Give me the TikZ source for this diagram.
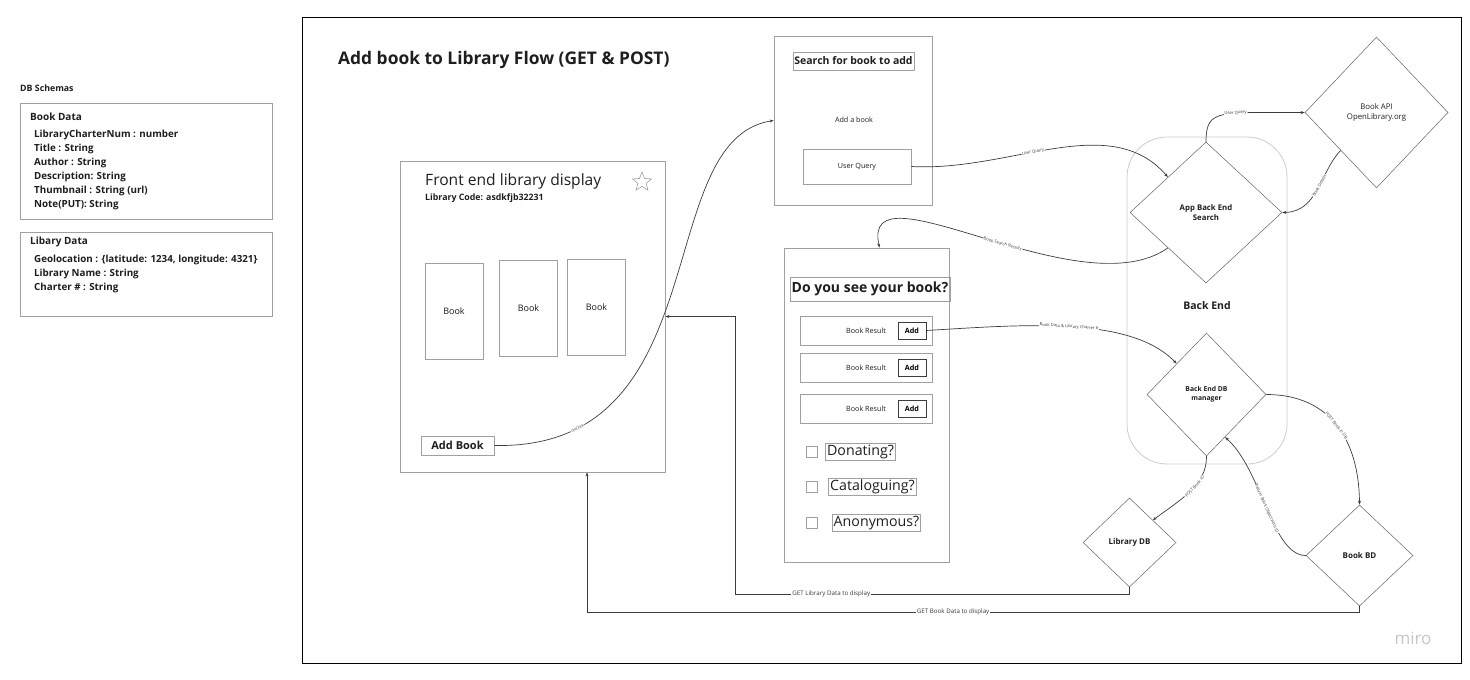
\documentclass[tikz,border=0pt]{standalone}
\usepackage{fontspec}
\setmainfont{Open Sans}
\usetikzlibrary{shapes.geometric, arrows.meta, positioning, calc}
\definecolor{boxgray}{RGB}{160, 160, 160}
\definecolor{linegray}{RGB}{60, 60, 60}
\definecolor{panelgray}{RGB}{205, 205, 205}
\definecolor{inkgray}{RGB}{30, 30, 30}

\begin{document}
\begin{tikzpicture}[x=1pt, y=-1pt,
  box/.style={draw=boxgray, line width=0.8pt, inner sep=2pt, text=inkgray},
  schema/.style={font=\bfseries\fontsize{9.8}{11}\selectfont, anchor=west, inner sep=0pt, text=inkgray},
  bookcard/.style={box, minimum width=58pt, minimum height=96pt, font=\fontsize{9}{10}\selectfont},
  dia/.style={diamond, draw=linegray!80, line width=0.5pt, align=center, inner sep=0pt, text=inkgray},
  flow/.style={draw=linegray, line width=0.7pt, -{Stealth[length=4pt, width=3pt]}},
  lbl/.style={sloped, fill=white, inner sep=0.5pt, font=\fontsize{4.2}{5}\selectfont, text=linegray},
  getlbl/.style={fill=white, inner sep=1pt, font=\fontsize{6.2}{7}\selectfont, text=linegray},
]
  \useasboundingbox (0,0) rectangle (1470,680);

  % DB schemas
  \node[schema, font=\bfseries\fontsize{8.8}{10}\selectfont] (dbtitle) at (20,88) {DB Schemas};
  \node[box, anchor=north west, minimum width=252pt, minimum height=116pt] (bookdata) at (20,103) {};
  \node[schema, font=\bfseries\fontsize{10}{11}\selectfont] (bookdatatitle) at (30,117) {Book Data};
  \foreach \row [count=\i] in {LibraryCharterNum : number, Title : String, Author : String,
      Description: String, Thumbnail : String (url), Note(PUT): String}
    \node[schema] (bdrow\i) at (34,121+14*\i) {\row};

  \node[box, anchor=north west, minimum width=252pt, minimum height=84pt] (libdata) at (20,232) {};
  \node[schema, font=\bfseries\fontsize{10}{11}\selectfont] (libdatatitle) at (30,242) {Libary Data};
  \foreach \row [count=\i] in {{Geolocation : \{latitude: 1234, longitude: 4321\}},
      Library Name : String, Charter \# : String}
    \node[schema] (ldrow\i) at (34,246+14*\i) {\row};

  % Flow frame
  \node[draw, line width=1.2pt, anchor=north west, minimum width=1159pt, minimum height=646pt] (frame) at (302,17) {};
  \node[anchor=west, inner sep=0pt, font=\bfseries\fontsize{17.4}{19}\selectfont, text=inkgray] (flowtitle) at (338,60)
    {Add book to Library Flow (GET \& POST)};

  % Front end library display
  \node[box, minimum width=265pt, minimum height=311pt] (front) at (532.5,316.5) {};
  \node[anchor=west, inner sep=0pt, font=\fontsize{15.6}{17}\selectfont, text=inkgray] (fronttitle) at (425,181)
    {Front end library display};
  \node[anchor=west, inner sep=0pt, font=\bfseries\fontsize{8.8}{10}\selectfont, text=inkgray] (frontcode) at (425,198)
    {Library Code: asdkfjb32231};
  \node[star, star points=5, star point ratio=2.3, draw=boxgray, line width=0.6pt, minimum size=20pt, inner sep=0pt] (star) at (642,182) {};
  \node[bookcard] (book1) at (454,311) {Book};
  \node[bookcard] (book2) at (528.5,308.5) {Book};
  \node[bookcard] (book3) at (596.5,307) {Book};
  \node[box, minimum width=73pt, minimum height=19pt, font=\bfseries\fontsize{11}{12}\selectfont] (addbook) at (457.5,445.5) {Add Book};

  % Search for book to add
  \node[box, minimum width=158pt, minimum height=169pt] (search) at (853,120.5) {};
  \node[box, minimum width=121pt, minimum height=18pt, inner sep=1pt, font=\bfseries\fontsize{10.5}{11}\selectfont] (searchtitle) at (853.5,61) {Search for book to add};
  \node[font=\fontsize{7.2}{8}\selectfont, text=inkgray] (addabook) at (854,120) {Add a book};
  \node[box, minimum width=108pt, minimum height=35pt, font=\fontsize{7.2}{8}\selectfont] (userquery) at (857,166.5) {User Query};

  % Do you see your book?
  \node[box, minimum width=165pt, minimum height=314pt] (results) at (866.5,405) {};
  \node[box, minimum width=160pt, minimum height=24pt, inner sep=1pt, font=\bfseries\fontsize{14}{15}\selectfont] (resultstitle) at (870,289) {Do you see your book?};
  \foreach \y [count=\i] in {330.5, 367.5, 408.5} {
    \node[box, minimum width=132pt, minimum height=29pt, font=\fontsize{7.2}{8}\selectfont] (result\i) at (866,\y) {Book Result};
    \node[draw=linegray, line width=0.6pt, minimum width=28pt, minimum height=17pt, inner sep=0pt, font=\bfseries\fontsize{7.2}{8}\selectfont] (add\i) at (912,\y) {Add};
  }
  \foreach \x/\y/\opt [count=\i] in {860.5/451.5/Donating?, 872.5/486.5/Cataloguing?, 876.5/523/Anonymous?} {
    \node[box, minimum size=11pt, inner sep=0pt] (check\i) at (811.5,\y) {};
    \node[box, inner sep=1.5pt, font=\fontsize{14.2}{15}\selectfont] (opt\i) at (\x,\y) {\opt};
  }

  % Back end
  \node[draw=panelgray, line width=0.8pt, rounded corners=40pt, minimum width=160pt, minimum height=327pt] (backend) at (1207,300.5) {};
  \node[font=\bfseries\fontsize{10.5}{11}\selectfont, text=inkgray] (backendlbl) at (1207,306) {Back End};
  \node[dia, minimum width=152pt, minimum height=141pt, font=\bfseries\fontsize{7.8}{10}\selectfont] (appsearch) at (1206,212.5) {App Back End\\Search};
  \node[dia, minimum width=143pt, minimum height=151pt, font=\fontsize{7.8}{10}\selectfont] (bookapi) at (1376.5,112.5) {Book API\\OpenLibrary.org};
  \node[dia, minimum width=119pt, minimum height=123pt, font=\bfseries\fontsize{6.8}{9}\selectfont] (dbman) at (1206.5,394.5) {Back End DB\\manager};
  \node[dia, minimum width=93pt, minimum height=89pt, font=\bfseries\fontsize{8}{9}\selectfont] (libdb) at (1129.5,542.5) {Library DB};
  \node[dia, minimum width=107pt, minimum height=101pt, font=\bfseries\fontsize{8}{9}\selectfont] (bookbd) at (1359.5,555.5) {Book BD};

  % Connectors
  \draw[flow] (addbook.east) .. controls (720,450) and (650,140) .. node[lbl, pos=0.15] {onClick} (search.west);
  \draw[flow] (userquery.east) .. controls (1010,172) and (1110,110) .. node[lbl, pos=0.42] {User Query} (appsearch.north west);
  \draw[flow] (appsearch.north) .. controls (1206,108) and (1220,113) .. node[lbl, pos=0.62] {User Query} (bookapi.west);
  \draw[flow] (bookapi.south west) .. controls (1320,172) and (1318,212) .. node[lbl, pos=0.45] {Book Details} (appsearch.east);
  \draw[flow] (appsearch.south west) .. controls (1080,310) and (860,160) .. node[lbl, pos=0.45] {Book Search Results} ([xshift=13pt]results.north);
  \draw[flow] (add1.east) .. controls (1020,325) and (1130,315) .. node[lbl, pos=0.5] {Book Data \& Library Charter \#} (dbman.north west);
  \draw[flow] (dbman.east) .. controls (1330,394.5) and (1359,440) .. node[lbl, pos=0.5] {POST Book in DB} (bookbd.north);
  \draw[flow] (dbman.south) .. controls (1207,485) and (1180,500) .. node[lbl, pos=0.42] {POST Book ID} (libdb.north east);
  \draw[flow] (bookbd.west) .. controls (1272,555.5) and (1262,470) .. node[lbl, pos=0.5] {Return Book Object with ID} ($(dbman.east)!0.69!(dbman.south)$);

  \coordinate (libturn) at (735,594);
  \coordinate (bookturn) at (587,612);
  \draw[flow] (libdb.south) |- node[getlbl, pos=0.878] {GET Library Data to display} (libturn) |- (front.east);
  \draw[flow] (bookbd.south) |- node[getlbl, pos=0.763] {GET Book Data to display} (bookturn) -- (bookturn |- front.south);

  % Watermark
  \node[font=\fontsize{17}{18}\selectfont, text=gray!45] (miro) at (1413,638) {miro};
\end{tikzpicture}
\end{document}
